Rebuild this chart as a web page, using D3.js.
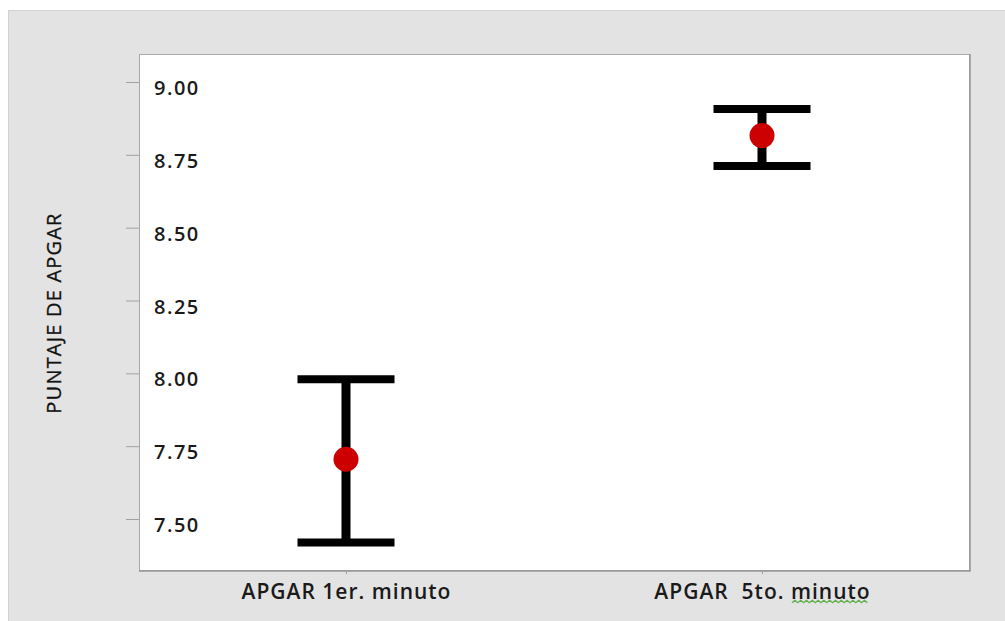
<!DOCTYPE html>
<html>
<head>
<meta charset="utf-8">
<script src="https://cdn.jsdelivr.net/npm/d3@7"></script>
<style>
  html, body { margin: 0; padding: 0; background: #ffffff; }
  svg { display: block; }
  .tick text { white-space: pre; }
</style>
</head>
<body>
<div id="chart"></div>
<script>
// APGAR scores: mean with interval per measurement time
var categories = ["APGAR 1er. minuto", "APGAR  5to. minuto"];
var means = [7.705, 8.816];
var lowers = [7.419, 8.712];
var uppers = [7.980, 8.907];
var yTicks = [7.50, 7.75, 8.00, 8.25, 8.50, 8.75, 9.00];
var yLabel = "PUNTAJE DE APGAR";

var width = 1005, height = 621;
var svg = d3.select("#chart").append("svg")
    .attr("width", width)
    .attr("height", height);

// gray frame
svg.append("rect")
    .attr("x", 8.5).attr("y", 10.5)
    .attr("width", width).attr("height", height)
    .attr("fill", "#e3e3e3")
    .attr("stroke", "#d2d2d2");

var plot = { left: 139, top: 54, right: 969, bottom: 570 };

// y scale: tick 9.00 at 82, 7.50 at 519
var y = d3.scaleLinear()
    .domain([7.5, 9.0])
    .range([519, 82]);

var x = d3.scalePoint()
    .domain(categories)
    .range([346, 762]);

// plot area
svg.append("rect")
    .attr("x", plot.left + 0.5).attr("y", plot.top + 0.5)
    .attr("width", plot.right - plot.left)
    .attr("height", plot.bottom - plot.top)
    .attr("fill", "#ffffff")
    .attr("stroke", "#a8a8a8");

// darker right/bottom edge
svg.append("path")
    .attr("d", "M" + (plot.right + 1) + "," + plot.top + "V" + (plot.bottom + 1) + "H" + plot.left)
    .attr("fill", "none")
    .attr("stroke", "#969696")
    .attr("stroke-width", 1.5);

// y axis ticks (outside) with labels inside the plot
var yAxis = svg.append("g")
    .attr("transform", "translate(" + plot.left + ",0)")
    .call(d3.axisLeft(y).tickValues(yTicks).tickSize(13).tickFormat(""));
yAxis.select(".domain").remove();
yAxis.selectAll(".tick line").attr("stroke", "#a0a0a0");

svg.append("g").selectAll("text")
    .data(yTicks)
    .enter().append("text")
    .attr("x", 154)
    .attr("y", function (d) { return y(d) + 6; })
    .attr("dy", "0.35em")
    .attr("font-family", "'Open Sans', sans-serif")
    .attr("font-weight", 600)
    .attr("font-size", "20px")
    .attr("letter-spacing", "1.5px")
    .attr("fill", "#1a1a1a")
    .text(function (d) { return d3.format(".2f")(d); });

// x axis ticks and labels
var xAxis = svg.append("g")
    .attr("transform", "translate(0," + plot.bottom + ")")
    .call(d3.axisBottom(x).tickSize(4).tickPadding(10));
xAxis.select(".domain").remove();
xAxis.selectAll(".tick line").attr("stroke", "#a0a0a0");
xAxis.selectAll(".tick text")
    .attr("font-family", "'Open Sans', sans-serif")
    .attr("font-weight", 600)
    .attr("font-size", "21px")
    .attr("letter-spacing", "1px")
    .attr("fill", "#1a1a1a");

// spell-check squiggle under "minuto"
var sq = "";
for (var i = 0; i <= 26; i++) {
    sq += (i === 0 ? "M" : "L") + (792 + i * 2.9) + "," + (601.5 + (i % 2 ? -1.3 : 1.3));
}
svg.append("path")
    .attr("d", sq)
    .attr("fill", "none")
    .attr("stroke", "#5fae4a")
    .attr("stroke-width", 1.2);

// y label
svg.append("text")
    .attr("transform", "translate(54,313) rotate(-90)")
    .attr("text-anchor", "middle")
    .attr("dy", "0.35em")
    .attr("font-family", "'Open Sans', sans-serif")
    .attr("font-size", "20px")
    .attr("letter-spacing", "1.2px")
    .attr("fill", "#111")
    .attr("stroke", "#111")
    .attr("stroke-width", 0.3)
    .text(yLabel);

// error bars
var capHalf = 48.5;
var bars = svg.append("g").selectAll("g")
    .data(categories)
    .enter().append("g");

bars.append("line")
    .attr("x1", function (d) { return x(d); })
    .attr("x2", function (d) { return x(d); })
    .attr("y1", function (d, i) { return y(uppers[i]); })
    .attr("y2", function (d, i) { return y(lowers[i]); })
    .attr("stroke", "#000")
    .attr("stroke-width", 9);

bars.append("line")
    .attr("x1", function (d) { return x(d) - capHalf; })
    .attr("x2", function (d) { return x(d) + capHalf; })
    .attr("y1", function (d, i) { return y(uppers[i]); })
    .attr("y2", function (d, i) { return y(uppers[i]); })
    .attr("stroke", "#000")
    .attr("stroke-width", 8);

bars.append("line")
    .attr("x1", function (d) { return x(d) - capHalf; })
    .attr("x2", function (d) { return x(d) + capHalf; })
    .attr("y1", function (d, i) { return y(lowers[i]); })
    .attr("y2", function (d, i) { return y(lowers[i]); })
    .attr("stroke", "#000")
    .attr("stroke-width", 8);

bars.append("circle")
    .attr("cx", function (d) { return x(d); })
    .attr("cy", function (d, i) { return y(means[i]); })
    .attr("r", 12.5)
    .attr("fill", "#cc0000");
</script>
</body>
</html>
